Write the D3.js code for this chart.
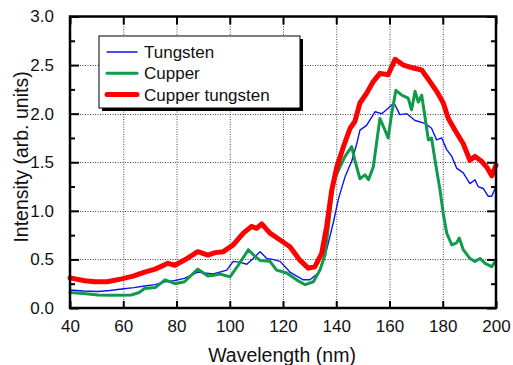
<!DOCTYPE html>
<html>
<head>
<meta charset="utf-8">
<script src="https://cdn.jsdelivr.net/npm/d3@7"></script>
<style>
  body { margin: 0; background: #fff; }
  svg { display: block; font-family: "Liberation Sans", Arial, sans-serif; }
</style>
</head>
<body>
<svg width="513" height="365"></svg>
<script>
// данные
const xTicks = [40, 60, 80, 100, 120, 140, 160, 180, 200];
const yTicks = [0.0, 0.5, 1.0, 1.5, 2.0, 2.5, 3.0];
const yMinor = [0.25, 0.75, 1.25, 1.75, 2.25, 2.75];

const seriesNames = ["Tungsten", "Cupper", "Cupper tungsten"];

const wlTungsten = [40, 45, 50.5, 55, 59.4, 64, 68, 72, 75.7, 79, 83, 88, 90.5, 93.8, 98.9, 101.3, 104, 106.4, 108.8, 111.4, 113.9, 116, 118.9, 122.6, 125, 127.6, 130.1, 133.3, 136.4, 138.9, 140.8, 143.3, 145.8, 147.7, 148.9, 151.4, 154.6, 157.1, 159.5, 161.7, 163.9, 166.5, 169.6, 173.3, 175.8, 177.7, 179.6, 181.5, 183.4, 185.2, 187.7, 190.2, 192.1, 193.3, 195.2, 197.1, 198.4, 200];
const valTungsten = [0.185, 0.175, 0.17, 0.18, 0.195, 0.21, 0.226, 0.24, 0.27, 0.28, 0.305, 0.37, 0.36, 0.35, 0.39, 0.48, 0.47, 0.45, 0.51, 0.58, 0.51, 0.5, 0.48, 0.37, 0.33, 0.29, 0.29, 0.36, 0.6, 0.88, 1.12, 1.35, 1.51, 1.69, 1.83, 1.88, 2.02, 2.0, 2.055, 2.11, 1.99, 2.0, 1.93, 1.9, 1.85, 1.73, 1.75, 1.63, 1.56, 1.44, 1.39, 1.28, 1.32, 1.25, 1.23, 1.15, 1.15, 1.25];

const wlCupper = [40, 45, 50.5, 56, 63, 66, 68, 72, 75.7, 79.4, 83, 88, 91.8, 94.5, 96.3, 100.1, 103.2, 107, 109.5, 111.4, 115.1, 117.6, 121.4, 125.1, 128.3, 131.4, 133.9, 135.8, 137.3, 138.9, 141.4, 143.3, 145.8, 147, 148.9, 150.8, 152.1, 153.9, 156.4, 158.3, 159.5, 160.8, 162.4, 164.6, 167, 168.3, 169.6, 170.8, 172.1, 173.3, 174.6, 175.8, 177.1, 179, 180.2, 181.5, 183.4, 185.2, 186.2, 187.7, 190.2, 192.1, 194, 195.9, 198.4, 200];
const valCupper = [0.16, 0.15, 0.134, 0.13, 0.134, 0.16, 0.2, 0.21, 0.29, 0.25, 0.27, 0.4, 0.33, 0.34, 0.35, 0.32, 0.44, 0.6, 0.53, 0.49, 0.48, 0.39, 0.36, 0.29, 0.24, 0.27, 0.39, 0.55, 0.9, 1.3, 1.45, 1.56, 1.66, 1.52, 1.33, 1.37, 1.32, 1.45, 1.95, 1.83, 1.75, 2.0, 2.24, 2.19, 2.16, 2.04, 2.23, 2.12, 2.19, 1.97, 1.73, 1.75, 1.52, 1.21, 0.97, 0.77, 0.65, 0.67, 0.72, 0.6, 0.51, 0.48, 0.51, 0.46, 0.425, 0.49];

const wlCuW = [40, 45.6, 49.4, 54, 59.4, 64, 68, 72, 76.8, 79.4, 84, 88, 91.8, 94.5, 97.6, 101.3, 105.1, 108.2, 110.1, 112, 115.1, 118.9, 122.6, 126.4, 129.5, 132, 134.5, 136.4, 138.3, 140.2, 142.7, 145.2, 147, 148.9, 151.4, 153.9, 156.4, 159.5, 162.1, 165.2, 168.9, 172.1, 175.2, 177.7, 180.2, 182.1, 184.6, 187.7, 190.2, 192.1, 194.6, 196.5, 198.4, 200];
const valCuW = [0.31, 0.28, 0.27, 0.27, 0.3, 0.33, 0.37, 0.4, 0.46, 0.44, 0.51, 0.58, 0.545, 0.57, 0.58, 0.65, 0.77, 0.84, 0.82, 0.865, 0.77, 0.7, 0.63, 0.49, 0.41, 0.425, 0.56, 0.84, 1.21, 1.45, 1.66, 1.85, 1.92, 2.11, 2.21, 2.33, 2.415, 2.4, 2.56, 2.5, 2.47, 2.45, 2.33, 2.23, 2.11, 1.95, 1.83, 1.69, 1.52, 1.56, 1.51, 1.45, 1.36, 1.47];

const series = [
    {name: seriesNames[0], x: wlTungsten, y: valTungsten, color: "#0a14f0", width: 1.4},
    {name: seriesNames[1], x: wlCupper, y: valCupper, color: "#0f9a4c", width: 3},
    {name: seriesNames[2], x: wlCuW, y: valCuW, color: "#ff0000", width: 5}
];

const svg = d3.select("svg");
const area = {left: 70, right: 496, top: 16.5, bottom: 308};

const scX = d3.scaleLinear().domain([40, 200]).range([area.left, area.right]);
const scY = d3.scaleLinear().domain([0, 3]).range([area.bottom, area.top]);

// сетка
const grid = svg.append("g")
    .attr("stroke", "#444")
    .attr("stroke-width", 1)
    .attr("stroke-dasharray", "1,1.5");
grid.selectAll(".gx")
    .data(xTicks.slice(1, -1))
    .enter().append("line")
    .attr("x1", d => scX(d) + 0.5).attr("x2", d => scX(d) + 0.5)
    .attr("y1", area.top).attr("y2", area.bottom);
grid.selectAll(".gy")
    .data(yTicks.slice(1, -1))
    .enter().append("line")
    .attr("y1", d => Math.round(scY(d)) + 0.5).attr("y2", d => Math.round(scY(d)) + 0.5)
    .attr("x1", area.left).attr("x2", area.right);

// оси: тики внутрь
svg.append("g").attr("transform", `translate(0, ${area.bottom})`)
    .call(d3.axisBottom(scX).tickValues(xTicks).tickSize(-7).tickPadding(12).tickFormat(d3.format("d")));
svg.append("g").attr("transform", `translate(0, ${area.top})`)
    .call(d3.axisTop(scX).tickValues(xTicks).tickSize(-8).tickFormat(""));
svg.append("g").attr("transform", `translate(${area.left}, 0)`)
    .call(d3.axisLeft(scY).tickValues(yTicks).tickSize(-9).tickPadding(16).tickFormat(d3.format(".1f")));
svg.append("g").attr("transform", `translate(${area.right}, 0)`)
    .call(d3.axisRight(scY).tickValues(yTicks).tickSize(-9).tickFormat(""));
svg.append("g").attr("transform", `translate(${area.left}, 0)`)
    .call(d3.axisLeft(scY).tickValues(yMinor).tickSize(-5).tickFormat(""));
svg.append("g").attr("transform", `translate(${area.right}, 0)`)
    .call(d3.axisRight(scY).tickValues(yMinor).tickSize(-5).tickFormat(""));

svg.selectAll(".domain").remove();
svg.selectAll(".tick line").attr("stroke", "#000").attr("stroke-width", 2);
svg.selectAll(".tick text").attr("fill", "#111").style("font-size", "17px");

// кривые
const plot = svg.append("g");
series.forEach(s => {
    const pts = s.x.map((x, i) => [x, s.y[i]]);
    plot.append("path")
        .datum(pts)
        .attr("fill", "none")
        .attr("stroke", s.color)
        .attr("stroke-width", s.width)
        .attr("stroke-linejoin", "round")
        .attr("stroke-linecap", "round")
        .attr("d", d3.line().x(d => scX(d[0])).y(d => scY(d[1])));
});

// рамка
svg.append("rect")
    .attr("x", area.left).attr("y", area.top)
    .attr("width", area.right - area.left).attr("height", area.bottom - area.top)
    .attr("fill", "none").attr("stroke", "#000").attr("stroke-width", 2.5);

// легенда
const lg = {x: 99, y: 36, w: 201, h: 72};
svg.append("rect")
    .attr("x", lg.x + 3).attr("y", lg.y + 3).attr("width", lg.w).attr("height", lg.h)
    .attr("fill", "#000");
svg.append("rect")
    .attr("x", lg.x).attr("y", lg.y).attr("width", lg.w).attr("height", lg.h)
    .attr("fill", "#fff").attr("stroke", "#000").attr("stroke-width", 1);
const rows = svg.selectAll(".leg")
    .data(series)
    .enter().append("g")
    .attr("transform", (d, i) => `translate(${lg.x}, ${lg.y + 16 + i * 21.3})`);
rows.append("line")
    .attr("x1", 8).attr("x2", 38).attr("y1", 0).attr("y2", 0)
    .attr("stroke", d => d.color).attr("stroke-width", d => d.width)
    .attr("stroke-linecap", "round");
rows.append("text")
    .attr("x", 45).attr("y", 6)
    .style("font-size", "17px").attr("fill", "#111")
    .text(d => d.name);

// подписи осей
svg.append("text")
    .attr("x", 282).attr("y", 362)
    .attr("text-anchor", "middle").style("font-size", "19.5px").attr("fill", "#111")
    .text("Wavelength (nm)");
svg.append("text")
    .attr("transform", `translate(28, 157) rotate(-90)`)
    .attr("text-anchor", "middle").style("font-size", "19.5px").attr("fill", "#111")
    .text("Intensity (arb. units)");
</script>
</body>
</html>
